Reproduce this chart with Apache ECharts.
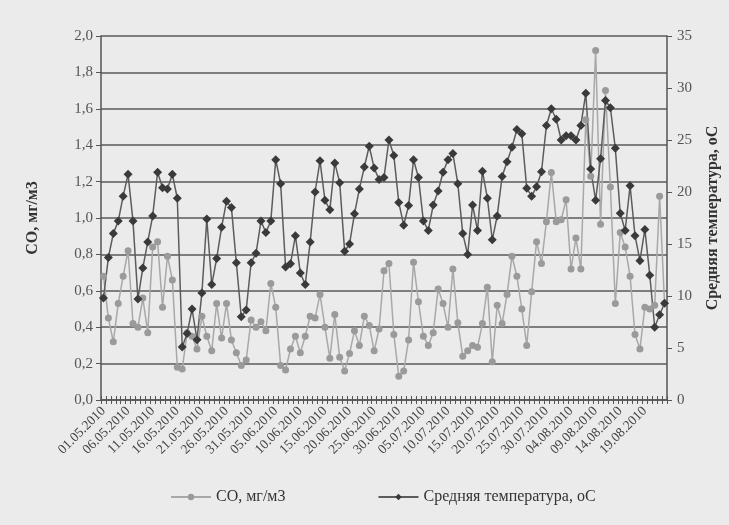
<!DOCTYPE html>
<html><head><meta charset="utf-8">
<script src="https://cdn.jsdelivr.net/npm/echarts@6/dist/echarts.min.js"></script>
<style>html,body{margin:0;padding:0;background:#ebebeb}#c{width:729px;height:525px}</style>
</head><body><div id="c"></div>
<script>
// Dates 01.05.2010 .. 23.08.2010 (115 days)
const startDay = new Date(2010, 4, 1);
const categories = [];
for (let i = 0; i < 115; i++) {
  const d = new Date(startDay.getTime() + i * 86400000);
  const dd = String(d.getDate()).padStart(2, '0');
  const mm = String(d.getMonth() + 1).padStart(2, '0');
  categories.push(dd + '.' + mm + '.' + d.getFullYear());
}
const coValues = [
  0.68,0.45,0.32,0.53,0.68,0.82,0.42,0.40,0.56,0.37,
  0.84,0.87,0.51,0.79,0.66,0.18,0.17,0.37,0.35,0.28,
  0.46,0.35,0.27,0.53,0.34,0.53,0.33,0.26,0.19,0.22,
  0.44,0.40,0.43,0.38,0.64,0.51,0.19,0.165,0.28,0.35,
  0.26,0.35,0.46,0.45,0.58,0.40,0.23,0.47,0.235,0.16,
  0.256,0.38,0.30,0.46,0.41,0.27,0.39,0.71,0.75,0.36,
  0.13,0.16,0.33,0.757,0.54,0.35,0.30,0.37,0.61,0.53,
  0.40,0.72,0.425,0.24,0.27,0.30,0.29,0.42,0.62,0.21,
  0.52,0.42,0.58,0.79,0.68,0.50,0.30,0.595,0.87,0.75,
  0.98,1.25,0.98,0.99,1.10,0.72,0.89,0.72,1.54,1.23,
  1.92,0.965,1.70,1.17,0.53,0.92,0.84,0.68,0.36,0.28,
  0.51,0.50,0.52,1.12,0.53
];
const tempValues = [
  9.8,13.7,16.0,17.2,19.6,21.7,17.2,9.7,12.7,15.2,
  17.7,21.9,20.4,20.3,21.7,19.4,5.1,6.4,8.75,5.8,
  10.3,17.4,11.1,13.6,16.6,19.1,18.5,13.2,8.0,8.65,
  13.2,14.1,17.2,16.1,17.2,23.1,20.8,12.8,13.1,15.8,
  12.2,11.1,15.2,20.0,23.0,19.2,18.3,22.8,20.9,14.3,
  15.0,17.9,20.3,22.4,24.4,22.3,21.2,21.4,25.0,23.5,
  19.0,16.8,18.7,23.1,21.4,17.2,16.3,18.75,20.1,21.9,
  23.1,23.7,20.8,16.0,14.0,18.75,16.3,22.0,19.4,15.4,
  17.7,21.5,22.9,24.3,26.0,25.6,20.35,19.6,20.5,21.95,
  26.4,28.0,27.0,25.0,25.4,25.4,25.0,26.4,29.5,22.2,
  19.2,23.2,28.8,28.1,24.2,17.95,16.3,20.6,15.8,13.4,
  16.4,12.0,7.0,8.2,9.3
];
const coName = 'CO, мг/м3';
const tempName = 'Средняя температура, оС';

const font = '"Liberation Serif", "DejaVu Serif", serif';
const chart = echarts.init(document.getElementById('c'), null, {renderer: 'canvas'});
chart.setOption({
  backgroundColor: '#ebebeb',
  animation: false,
  textStyle: {fontFamily: font},
  grid: {left: 101, right: 60, top: 36, bottom: 125, containLabel: false},
  legend: {
    bottom: 15, left: 165, itemGap: 92, itemWidth: 40, itemHeight: 8,
    textStyle: {fontFamily: font, fontSize: 16, color: '#333'},
    data: [coName, tempName]
  },
  xAxis: [{
    type: 'category', data: categories, boundaryGap: true,
    axisLine: {lineStyle: {color: '#555', width: 1.5}},
    axisTick: {show: true, interval: 0, length: 4, lineStyle: {color: '#555'}},
    axisLabel: {interval: 4, rotate: 45, fontFamily: font, fontSize: 13.5, color: '#444', margin: 9}
  }, {
    type: 'category', data: categories, boundaryGap: true, position: 'bottom',
    axisLine: {show: false},
    axisTick: {show: true, inside: true, interval: 0, length: 4, lineStyle: {color: '#555'}},
    axisLabel: {show: false}
  }],
  yAxis: [{
    type: 'value', min: 0, max: 2, interval: 0.2, position: 'left',
    name: coName, nameLocation: 'middle', nameGap: 60, nameRotate: 90,
    nameTextStyle: {fontFamily: font, fontSize: 16, fontWeight: 'bold', color: '#333'},
    axisLine: {show: true, lineStyle: {color: '#555', width: 1.5}},
    axisTick: {show: true, length: 5, lineStyle: {color: '#555'}},
    axisLabel: {fontFamily: font, fontSize: 15, color: '#555', margin: 8,
      formatter: v => v.toFixed(1).replace('.', ',')},
    splitLine: {show: true, lineStyle: {color: '#5a5a5a', width: 1.5}}
  }, {
    type: 'value', min: 0, max: 35, interval: 5, position: 'right',
    name: tempName, nameLocation: 'middle', nameGap: 38, nameRotate: 90,
    nameTextStyle: {fontFamily: font, fontSize: 16, fontWeight: 'bold', color: '#333'},
    axisLine: {show: true, lineStyle: {color: '#555', width: 1.5}},
    axisTick: {show: true, length: 5, lineStyle: {color: '#555'}},
    axisLabel: {fontFamily: font, fontSize: 15, color: '#555', margin: 10},
    splitLine: {show: false}
  }],
  series: [{
    name: coName, type: 'line', yAxisIndex: 0, data: coValues,
    symbol: 'circle', symbolSize: 7, showSymbol: true, showAllSymbol: true,
    lineStyle: {color: '#a8a8a8', width: 1.5},
    itemStyle: {color: '#9a9a9a'}
  }, {
    name: tempName, type: 'line', yAxisIndex: 1, data: tempValues,
    symbol: 'diamond', symbolSize: 9, showSymbol: true, showAllSymbol: true,
    lineStyle: {color: '#5c5c5c', width: 1.5},
    itemStyle: {color: '#3a3a3a'},
    z: 3
  }]
});
</script></body></html>
